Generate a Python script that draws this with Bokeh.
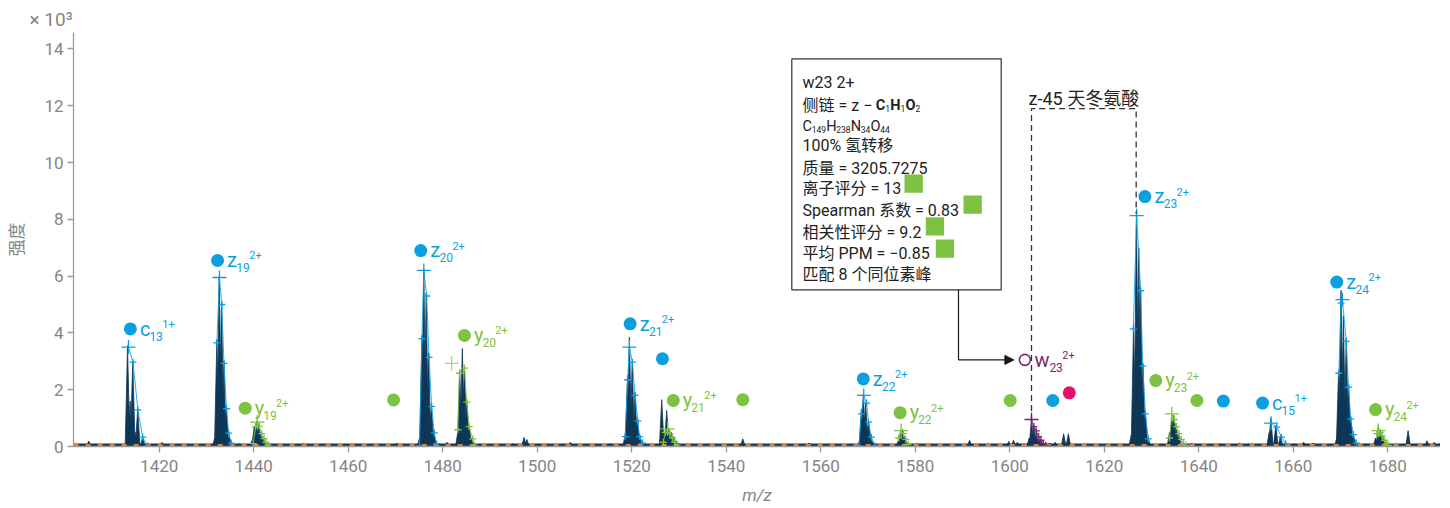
from bokeh.plotting import figure
from bokeh.models import (ColumnDataSource, LabelSet, Label, Range1d, FixedTicker,
                          Arrow, NormalHead)
from bokeh.embed import file_html
from bokeh.resources import INLINE
from bokeh.core.properties import value, field

# ------------------------------------------------------------------
# DATA  (m/z, intensity in units of 10^3)
# ------------------------------------------------------------------
x_ticks = [1420, 1440, 1460, 1480, 1500, 1520, 1540, 1560, 1580, 1600, 1620, 1640, 1660, 1680]
y_ticks = [0, 2, 4, 6, 8, 10, 12, 14]

# isotope peaks of the measured spectrum
peak_mz = [1413.3, 1413.85, 1414.4, 1414.9, 1415.45, 1416.5, 1417.5,
           1431.75, 1432.2, 1432.7, 1433.2, 1433.7, 1434.2, 1434.7, 1435.2,
           1439.6, 1440.1, 1440.6, 1441.1, 1441.6, 1442.1, 1442.6,
           1475.1, 1475.6, 1476.0, 1476.5, 1477.0, 1477.6, 1478.1, 1478.6,
           1483.2, 1483.6, 1484.15, 1484.6, 1485.1, 1485.6, 1486.1, 1486.6,
           1497.2, 1497.8,
           1518.6, 1519.1, 1519.5, 1520.1, 1520.7, 1521.2, 1521.7, 1522.3,
           1526.35, 1526.9, 1527.4, 1527.9, 1528.4, 1528.9, 1529.4, 1529.9,
           1543.5,
           1568.1, 1568.6, 1569.0, 1569.5, 1570.1, 1570.6, 1571.1,
           1576.4, 1576.9, 1577.3, 1577.8, 1578.3, 1578.8,
           1604.1, 1604.6, 1605.1, 1605.6, 1606.1, 1606.6, 1607.1,
           1611.4, 1612.4,
           1625.7, 1626.2, 1626.8, 1627.3, 1627.7, 1628.2, 1628.7, 1629.3,
           1633.8, 1634.3, 1634.7, 1635.2, 1635.7, 1636.2, 1636.7,
           1654.9, 1655.25, 1656.3, 1657.3, 1658.3,
           1669.2, 1669.6, 1670.1, 1670.6, 1671.2, 1671.7, 1672.15, 1672.7, 1673.3,
           1677.4, 1678.0, 1678.5, 1679.0, 1679.5, 1680.0,
           1684.3, 1692.1]
peak_int = [3.55, 1.6, 3.0, 0.5, 1.3, 0.35, 0.06,
            0.3, 3.75, 6.0, 5.1, 3.0, 1.4, 0.5, 0.15,
            0.2, 0.7, 0.9, 0.8, 0.5, 0.3, 0.12,
            0.3, 3.9, 6.25, 5.4, 3.3, 1.5, 0.55, 0.12,
            0.5, 2.7, 3.45, 2.8, 1.6, 0.75, 0.3, 0.08,
            0.32, 0.25,
            0.4, 2.5, 3.85, 3.0, 1.9, 0.95, 0.4, 0.15,
            1.65, 0.5, 1.27, 0.6, 0.5, 0.35, 0.2, 0.1,
            0.27,
            0.15, 1.3, 1.85, 1.55, 0.95, 0.4, 0.15,
            0.2, 0.55, 0.6, 0.35, 0.15, 0.05,
            0.3, 0.97, 0.75, 0.5, 0.3, 0.2, 0.1,
            0.45, 0.45,
            0.4, 4.3, 8.25, 7.0, 5.5, 2.9, 1.2, 0.3,
            0.5, 1.05, 1.1, 0.8, 0.45, 0.2, 0.08,
            0.5, 1.0, 0.75, 0.4, 0.15,
            0.3, 2.7, 5.5, 4.6, 3.8, 2.2, 1.05, 0.45, 0.15,
            0.3, 0.74, 0.55, 0.35, 0.15, 0.06,
            0.56, 0.56]

# small noise bumps along the baseline
noise_mz = [1405.1, 1406.5, 1408.0, 1409.6, 1411.2, 1419.2, 1420.6, 1422.5, 1424.3, 1426.2,
            1428.0, 1429.8, 1437.0, 1445.0, 1447.2, 1449.0, 1450.5, 1452.8, 1455.0, 1457.3,
            1459.5, 1461.8, 1464.0, 1466.3, 1468.5, 1470.3, 1472.5, 1480.9, 1482.6, 1488.2,
            1490.3, 1492.4, 1494.8, 1499.5, 1501.5, 1503.5, 1505.3, 1507.0, 1509.0, 1511.0,
            1513.2, 1515.5, 1517.0, 1524.0, 1531.5, 1533.5, 1535.5, 1537.8, 1540.0, 1541.8,
            1545.5, 1547.5, 1549.5, 1551.5, 1553.5, 1555.6, 1557.5, 1559.6, 1561.8, 1564.0,
            1566.0, 1573.0, 1575.0, 1580.5, 1582.5, 1584.6, 1586.8, 1589.0, 1591.5, 1593.5,
            1595.5, 1597.6, 1599.8, 1600.8, 1601.6, 1603.0, 1608.5, 1609.6, 1614.2, 1616.5,
            1618.5, 1620.5, 1622.5, 1624.2, 1631.2, 1638.5, 1640.5, 1642.6, 1644.6, 1646.8,
            1648.6, 1650.6, 1652.5, 1660.2, 1662.2, 1664.2, 1666.3, 1667.8, 1675.3, 1682.0,
            1686.2, 1688.3, 1689.8, 1691.0]
noise_int = [0.19, 0.06, 0.05, 0.07, 0.05, 0.08, 0.15, 0.06, 0.07, 0.05,
             0.08, 0.06, 0.10, 0.07, 0.09, 0.06, 0.10, 0.07, 0.08, 0.06,
             0.07, 0.08, 0.06, 0.09, 0.07, 0.12, 0.07, 0.15, 0.08, 0.08,
             0.06, 0.07, 0.10, 0.08, 0.07, 0.06, 0.08, 0.15, 0.06, 0.08,
             0.07, 0.10, 0.08, 0.08, 0.07, 0.06, 0.08, 0.05, 0.07, 0.08,
             0.07, 0.06, 0.08, 0.07, 0.06, 0.09, 0.12, 0.06, 0.08, 0.06,
             0.08, 0.08, 0.07, 0.10, 0.07, 0.08, 0.06, 0.07, 0.22, 0.07,
             0.08, 0.06, 0.18, 0.22, 0.15, 0.10, 0.12, 0.15, 0.08, 0.10,
             0.07, 0.08, 0.06, 0.07, 0.08, 0.12, 0.08, 0.07, 0.10, 0.08,
             0.12, 0.10, 0.08, 0.10, 0.15, 0.12, 0.08, 0.07, 0.10, 0.08,
             0.10, 0.20, 0.15, 0.10]
baseline_level = 0.11
threshold_mz = [1401.9, 1692.2]
threshold_int = [0.05, 0.05]

# theoretical isotope positions (+ markers); theo_top marks the big marker
theo_ion = (["c13"] * 5 + ["z19"] * 7 + ["y19"] * 8 + ["z20"] * 8 + ["y20"] * 7 +
            ["z21"] * 8 + ["y21"] * 7 + ["z22"] * 7 + ["y22"] * 5 + ["w23"] * 7 +
            ["z23"] * 6 + ["y23"] * 8 + ["c15"] * 4 + ["z24"] * 8 + ["y24"] * 7)
theo_mz = [1413.5, 1414.45, 1415.5, 1416.5, 1417.55,
           1432.2, 1432.75, 1433.25, 1433.7, 1434.25, 1434.7, 1435.25,
           1439.9, 1440.4, 1440.75, 1441.2, 1441.7, 1442.2, 1442.6, 1443.0,
           1475.1, 1475.6, 1476.0, 1476.6, 1477.1, 1477.65, 1478.2, 1478.7,
           1483.2, 1483.55, 1484.6, 1485.1, 1485.6, 1486.35, 1486.7,
           1518.6, 1519.15, 1519.5, 1520.15, 1520.7, 1521.3, 1521.65, 1522.3,
           1526.7, 1527.1, 1527.6, 1528.1, 1528.6, 1529.1, 1529.6,
           1568.1, 1568.6, 1569.1, 1569.7, 1570.1, 1570.7, 1571.5,
           1576.5, 1577.0, 1577.5, 1578.0, 1578.5,
           1604.6, 1605.1, 1605.6, 1606.1, 1606.6, 1607.1, 1607.6,
           1626.15, 1626.85, 1627.7, 1628.15, 1628.7, 1629.3,
           1633.8, 1634.3, 1634.8, 1635.3, 1635.8, 1636.3, 1636.8, 1637.3,
           1655.3, 1656.5, 1657.5, 1658.4,
           1669.65, 1670.1, 1670.4, 1671.2, 1671.7, 1672.15, 1672.7, 1673.35,
           1677.7, 1678.0, 1678.4, 1678.8, 1679.3, 1679.8, 1680.2]
theo_int = [3.5, 2.97, 1.29, 0.33, 0.02,
            3.65, 5.95, 5.0, 2.93, 1.33, 0.47, 0.12,
            0.1, 0.7, 0.86, 0.72, 0.45, 0.28, 0.14, 0.05,
            0.02, 3.8, 6.2, 5.3, 3.14, 1.41, 0.48, 0.1,
            0.59, 2.58, 2.76, 1.56, 0.7, 0.27, 0.05,
            0.35, 2.35, 3.5, 2.97, 1.8, 0.89, 0.35, 0.12,
            0.15, 0.5, 0.62, 0.45, 0.3, 0.15, 0.05,
            0.02, 1.15, 1.8, 1.53, 0.86, 0.33, 0.02,
            0.3, 0.56, 0.45, 0.25, 0.08,
            0.95, 0.7, 0.55, 0.35, 0.22, 0.1, 0.04,
            4.14, 8.13, 5.49, 2.83, 1.15, 0.27,
            0.3, 1.15, 0.95, 0.7, 0.45, 0.25, 0.1, 0.04,
            0.82, 0.68, 0.33, 0.1,
            2.58, 5.05, 5.17, 3.7, 2.09, 0.97, 0.42, 0.12,
            0.45, 0.56, 0.5, 0.38, 0.22, 0.1, 0.04]
theo_top = [1, 0, 0, 0, 0,
            0, 1, 0, 0, 0, 0, 0,
            0, 0, 1, 0, 0, 0, 0, 0,
            0, 0, 1, 0, 0, 0, 0, 0,
            0, 0, 0, 0, 0, 0, 0,
            0, 0, 1, 0, 0, 0, 0, 0,
            0, 0, 1, 0, 0, 0, 0,
            0, 0, 1, 0, 0, 0, 0,
            0, 1, 0, 0, 0,
            1, 0, 0, 0, 0, 0, 0,
            0, 1, 0, 0, 0, 0,
            0, 1, 0, 0, 0, 0, 0, 0,
            1, 0, 0, 0,
            0, 0, 1, 0, 0, 0, 0, 0,
            0, 1, 0, 0, 0, 0, 0]
stray_mz = [1481.9]
stray_int = [2.93]

# labelled ions (circle markers)
ion_letter = ["c", "z", "y", "z", "y", "z", "y", "z", "y", "w", "z", "y", "c", "z", "y"]
ion_sub = ["13", "19", "19", "20", "20", "21", "21", "22", "22", "23", "23", "23", "15", "24", "24"]
ion_sup = ["1+", "2+", "2+", "2+", "2+", "2+", "2+", "2+", "2+", "2+", "2+", "2+", "1+", "2+", "2+"]
ion_mz = [1413.9, 1432.35, 1438.2, 1475.35, 1484.6, 1519.66, 1528.8, 1569.0, 1576.8,
          1603.2, 1628.6, 1630.9, 1653.5, 1669.2, 1677.4]
ion_int = [4.14, 6.55, 1.35, 6.90, 3.91, 4.32, 1.62, 2.38, 1.19,
           3.05, 8.80, 2.32, 1.53, 5.79, 1.30]

# unlabelled circle markers
dot_kind = ["y", "z", "y", "y", "z", "m", "y", "z"]
dot_mz = [1469.6, 1526.5, 1543.5, 1600.1, 1609.1, 1612.6, 1639.6, 1645.2]
dot_int = [1.64, 3.09, 1.65, 1.62, 1.62, 1.89, 1.62, 1.60]

# z-45 bracket between w23 and z23 apices
bracket_mz = [1604.6, 1604.6, 1626.75, 1626.75]
bracket_int = [0.9, 11.9, 11.9, 8.2]
bracket_title = "z-45 天冬氨酸"

# info box
info_title = "w23 2+"
info_side_text = "侧链 = z − "
info_side_elems = [("C", "1"), ("H", "1"), ("O", "2")]
info_formula = [("C", "149"), ("H", "238"), ("N", "34"), ("O", "44")]
info_lines = ["100% 氢转移", "质量 = 3205.7275", "离子评分 = 13", "Spearman 系数 = 0.83",
              "相关性评分 = 9.2", "平均 PPM = −0.85", "匹配 8 个同位素峰"]
info_flag = [0, 0, 1, 1, 1, 1, 0]

# ------------------------------------------------------------------
# STYLE / LAYOUT
# ------------------------------------------------------------------
NAVY = "#0e3758"
BLUE = "#0c9fe0"
GREEN = "#7dc242"
PURPLE = "#7a2670"
MAGENTA = "#e6106a"
ORANGE = "#d9843a"
AXIS = "#9c9c9c"
TICKTXT = "#858585"
TXT = "#222222"
KIND_COLOR = {"c": BLUE, "z": BLUE, "y": GREEN, "w": PURPLE, "m": MAGENTA}
FONT = "Roboto, Noto Sans CJK SC"

FRAME_L, FRAME_T, FRAME_W, FRAME_H = 75, 32, 1367, 414
PX_PER_MZ = (1389.3 - 160.7) / 260.0
PX_PER_K = 28.4
X_START = 1420 - (160.7 - FRAME_L) / PX_PER_MZ
X_END = X_START + FRAME_W / PX_PER_MZ
Y_END = FRAME_H / PX_PER_K


def dx(px):
    return X_START + (px - FRAME_L) / PX_PER_MZ


def dy(py):
    return (FRAME_T + FRAME_H - py) / PX_PER_K


p = figure(frame_width=FRAME_W, frame_height=FRAME_H,
           x_range=Range1d(X_START, X_END), y_range=Range1d(0, Y_END),
           min_border_left=67, min_border_right=0, min_border_top=32, min_border_bottom=60,
           output_backend="svg", toolbar_location=None)
p.outline_line_color = None
p.grid.visible = False
p.background_fill_color = "white"
p.border_fill_color = "white"

# "× 10³" multiplier drawn as the (left aligned) title
p.title.text = "× 10³"
p.title.align = "left"
p.title.offset = -44
p.title.standoff = 3
p.title.text_font = "Roboto"
p.title.text_font_size = "19px"
p.title.text_font_style = "normal"
p.title.text_color = TICKTXT

for ax in (p.xaxis[0], p.yaxis[0]):
    ax.axis_line_color = AXIS
    ax.axis_line_width = 1.3
    ax.major_tick_line_color = AXIS
    ax.major_tick_line_width = 1.3
    ax.major_tick_in = 0
    ax.major_tick_out = 6
    ax.minor_tick_line_color = None
    ax.major_label_text_color = TICKTXT
    ax.major_label_text_font = "Roboto"
    ax.major_label_text_font_size = "17px"
    ax.axis_label_text_color = TICKTXT
    ax.axis_label_text_font_size = "17px"

p.xaxis.ticker = FixedTicker(ticks=x_ticks)
p.yaxis.ticker = FixedTicker(ticks=y_ticks)
p.xaxis.major_label_standoff = 7
p.yaxis.major_label_standoff = 4
p.yaxis.axis_label = "强度"
p.yaxis.axis_label_text_font = "Noto Sans CJK SC"
p.yaxis.axis_label_text_font_style = "normal"
p.yaxis.axis_label_standoff = 13
p.xaxis.axis_label = "m/z"
p.xaxis.axis_label_text_font = "Roboto"
p.xaxis.axis_label_text_font_style = "italic"
p.xaxis.axis_label_standoff = 10

# --- spectrum ---
HW = 0.5
all_mz = peak_mz + noise_mz
all_int = peak_int + noise_int
p.varea(x=[X_START, X_END], y1=[0, 0], y2=[baseline_level, baseline_level], fill_color=NAVY)
p.patches(xs=[[m - HW, m, m + HW] for m in all_mz], ys=[[0, h, 0] for h in all_int],
          fill_color=NAVY, line_color=NAVY, line_width=0.8)
p.line(threshold_mz, threshold_int, line_color=ORANGE, line_width=2, line_dash="5 7")

# --- theoretical isotope envelopes ---
ions_in_order = []
for ion in theo_ion:
    if ion not in ions_in_order:
        ions_in_order.append(ion)
for ion in ions_in_order:
    pts = sorted((m, v) for i_, m, v in zip(theo_ion, theo_mz, theo_int) if i_ == ion)
    col = KIND_COLOR[ion[0]]
    p.line([a for a, _ in pts], [b for _, b in pts], line_color=col, line_width=1, line_alpha=0.85)
theo_col = [KIND_COLOR[i[0]] for i in theo_ion]
theo_size = [14 if t else 7 for t in theo_top]
p.scatter(x=theo_mz, y=theo_int, marker="cross", size=theo_size, line_color=theo_col, line_width=1.3)
p.scatter(x=stray_mz, y=stray_int, marker="cross", size=14, line_color=GREEN, line_width=1.1, line_alpha=0.8)

# --- ion circles ---
ion_col = [KIND_COLOR[l] for l in ion_letter]
filled = [i for i, l in enumerate(ion_letter) if l != "w"]
p.scatter(x=[ion_mz[i] for i in filled], y=[ion_int[i] for i in filled], size=13,
          fill_color=[ion_col[i] for i in filled], line_color=None)
opened = [i for i, l in enumerate(ion_letter) if l == "w"]
p.scatter(x=[ion_mz[i] for i in opened], y=[ion_int[i] for i in opened], size=11,
          fill_color="white", line_color=PURPLE, line_width=1.6)
p.scatter(x=dot_mz, y=dot_int, size=13, fill_color=[KIND_COLOR[k] for k in dot_kind], line_color=None)

LETTER_W = {"c": 9.5, "z": 9.3, "y": 8.5, "w": 15.0}
DIGIT_W = 6.2
xo_letter = [9.5] * len(ion_letter)
xo_sub = [9.5 + LETTER_W[l] for l in ion_letter]
xo_sup = [xs + DIGIT_W * len(s) + 0.5 for xs, s in zip(xo_sub, ion_sub)]
lab_src = ColumnDataSource(dict(x=ion_mz, y=ion_int, letter=ion_letter, sub=ion_sub, sup=ion_sup,
                                color=ion_col, xl=xo_letter, xs=xo_sub, xp=xo_sup))
for col_text, xo, yo, size in (("letter", "xl", -6.7, "20px"), ("sub", "xs", -11.7, "12px"),
                               ("sup", "xp", 1.0, "11px")):
    p.add_layout(LabelSet(x="x", y="y", text=field(col_text), x_offset=field(xo), y_offset=yo,
                          text_color=field("color"), text_font=value("Roboto"),
                          text_font_size=value(size), text_baseline="alphabetic",
                          text_align="left", source=lab_src))

# --- z-45 bracket ---
p.line(bracket_mz, bracket_int, line_color="#333333", line_width=1.3, line_dash="6 4")
p.add_layout(Label(x=(bracket_mz[1] + bracket_mz[2]) / 2, y=bracket_int[1], y_offset=10,
                   text=bracket_title, text_font=FONT, text_font_size="18px", text_color=TXT,
                   text_align="center", text_baseline="alphabetic"))

# --- info box ---
p.quad(left=[dx(793.3)], right=[dx(1002.7)], top=[dy(58.3)], bottom=[dy(289.3)],
       fill_color="white", line_color="#333333", line_width=1.2)


def box_text(px, py, txt, size, bold=False):
    p.add_layout(Label(x=dx(px), y=dy(py), text=txt, text_font=FONT, text_font_size=f"{size}px",
                       text_font_style="bold" if bold else "normal", text_color=TXT,
                       text_baseline="alphabetic", text_align="left"))


ADV = {"C": 0.652, "H": 0.713, "N": 0.714, "O": 0.688}   # Roboto advance widths (em)
DIGIT_ADV = 0.562


def formula(x0, base, elems, size_el, size_sub, bold):
    x = x0
    for el, n in elems:
        box_text(x, base, el, size_el, bold=bold)
        x += ADV[el] * size_el * (1.03 if bold else 1.0) - 0.3
        box_text(x, base + 3, n, size_sub)
        x += DIGIT_ADV * size_sub * len(n) + 0.2


box_text(804, 81.7, info_title, 16)
box_text(804, 105, info_side_text, 16)
formula(877.3, 105, info_side_elems, 14.5, 8.5, True)
formula(804, 126, info_formula, 14.5, 8.5, False)
line_base = [145, 168.3, 188.3, 210, 231.7, 252.7, 274]
for txt, yb in zip(info_lines, line_base):
    box_text(804, yb, txt, 16)
sq_left = [906, 965, 927.3, 937.3]
sq_top = [174, 195, 216.7, 239]
p.quad(left=[dx(x) for x in sq_left], right=[dx(x + 18.3) for x in sq_left],
       top=[dy(t) for t in sq_top], bottom=[dy(t + 18.3) for t in sq_top],
       fill_color=GREEN, line_color=None)

# arrow from info box to w23
w_i = ion_letter.index("w")
p.line([dx(960), dx(960)], [dy(289.3), ion_int[w_i]], line_color="#1a1a1a", line_width=1.2)
p.add_layout(Arrow(x_start=dx(960), y_start=ion_int[w_i], x_end=ion_mz[w_i] - 11 / PX_PER_MZ,
                   y_end=ion_int[w_i], line_color="#1a1a1a", line_width=1.2,
                   end=NormalHead(size=9, fill_color="#1a1a1a", line_color="#1a1a1a")))

open("out.html", "w").write(file_html(p, INLINE))
